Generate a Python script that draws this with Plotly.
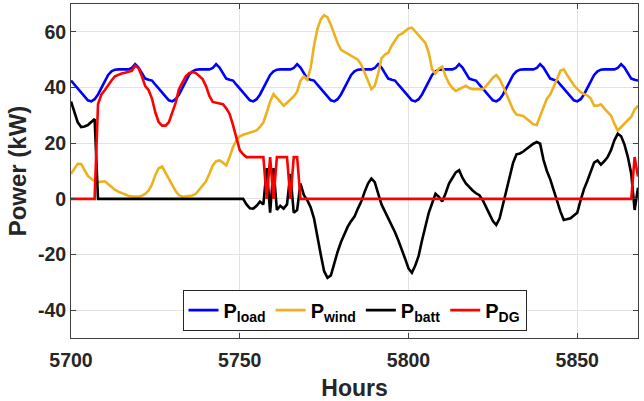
import plotly.graph_objects as go

hours = list(range(5700, 5869))

p_load = [
    42.5, 41, 39.5, 38, 36.5, 35.4,
    35, 35.8, 37.5, 40, 42.5, 44.5, 45.8, 46.4, 46.5, 46.5, 46.5, 46.5, 47, 48.4, 47.2, 45, 43.2, 42.8, 42.5, 41, 39.5, 38, 36.5, 35.4,
    35, 35.8, 37.5, 40, 42.5, 44.5, 45.8, 46.4, 46.5, 46.5, 46.5, 46.5, 47, 48.4, 47.2, 45, 43.2, 42.8, 42.5, 41, 39.5, 38, 36.5, 35.4,
    35, 35.8, 37.5, 40, 42.5, 44.5, 45.8, 46.4, 46.5, 46.5, 46.5, 46.5, 47, 48.4, 47.2, 45, 43.2, 42.8, 42.5, 41, 39.5, 38, 36.5, 35.4,
    35, 35.8, 37.5, 40, 42.5, 44.5, 45.8, 46.4, 46.5, 46.5, 46.5, 46.5, 47, 48.4, 47.2, 45, 43.2, 42.8, 42.5, 41, 39.5, 38, 36.5, 35.4,
    35, 35.8, 37.5, 40, 42.5, 44.5, 45.8, 46.4, 46.5, 46.5, 46.5, 46.5, 47, 48.4, 47.2, 45, 43.2, 42.8, 42.5, 41, 39.5, 38, 36.5, 35.4,
    35, 35.8, 37.5, 40, 42.5, 44.5, 45.8, 46.4, 46.5, 46.5, 46.5, 46.5, 47, 48.4, 47.2, 45, 43.2, 42.8, 42.5, 41, 39.5, 38, 36.5, 35.4,
    35, 35.8, 37.5, 40, 42.5, 44.5, 45.8, 46.4, 46.5, 46.5, 46.5, 46.5, 47, 48.4, 47.2, 45, 43.2, 42.8, 42.5,
]

p_wind = [
    9, 11, 12.6, 12.5, 10.3, 8.2, 7.2, 6.4, 6, 6.2,
    6.3, 5.3, 4.2, 3.3, 2.6, 2, 1.5, 1.1, 0.9, 0.8,
    0.8, 1.1, 1.8, 3, 5.2, 8.6, 11, 11.6, 9.5, 7,
    4.8, 2.8, 1.3, 0.8, 0.9, 1, 1.2, 1.8, 3.2, 4.8,
    6.3, 9, 12, 13.5, 13.8, 13, 12, 15, 18.6, 21,
    22.5, 23, 23.4, 23.8, 24.2, 24.6, 25.8, 27.5, 31, 35,
    37.6, 36.2, 34.5, 33.5, 34.5, 35.5, 36.8, 38.5, 42.5, 44,
    42.8, 47, 55, 61, 64.5, 66, 65.2, 62.5, 59.2, 56,
    53.5, 52.8, 52, 51.5, 50.7, 50, 48.2, 45.5, 42.4, 39.4,
    40.6, 45, 50.5, 51.8, 52.5, 55, 57, 58.7, 59.3, 60.2,
    61.2, 61.5, 60.2, 58.5, 57.2, 56, 52.5, 46.5, 45, 46.8,
    47.5, 44, 41.5, 39.8, 38.8, 39.5, 40.2, 40.6, 39.8, 39.4,
    39.4, 39.4, 39.4, 40.5, 42, 43.5, 44.5, 43, 40.5, 37.5,
    35, 32, 30.3, 30, 29.8, 28.8, 27.8, 26.8, 26.5, 29.5,
    33, 36, 37.5, 40, 43, 46, 46.5, 44.5, 42.5, 40.8,
    39.5, 38.3, 37.6, 37.2, 36, 33.5, 33.5, 34, 32.5, 31,
    29.9, 27, 24.5, 25.8, 27, 28, 29.5, 32, 33.5,
]

p_batt = [
    35, 31, 27.5, 25.8, 26, 26.5, 27.5, 28.7, 0, 0,
    0, 0, 0, 0, 0, 0, 0, 0, 0, 0,
    0, 0, 0, 0, 0, 0, 0, 0, 0, 0,
    0, 0, 0, 0, 0, 0, 0, 0, 0, 0,
    0, 0, 0, 0, 0, 0, 0, 0, 0, 0,
    0, 0, -2, -3.4, -3.5, -2.5, -1, -2, 11, -5,
    11, -4, -2.5, -3.5, -2, 9, -5, -4, 5.5, 1.3,
    -0.5, -3, -7, -14, -20, -26, -28.4, -27.5, -23, -19,
    -15.5, -12.5, -10, -8, -6.4, -3.5, -1, 2.5, 5.5, 7.3,
    6, 2, -2, -4.5, -7, -9, -12, -15, -18, -21.5,
    -25, -26.6, -24, -20.5, -15, -10, -5, -1.6, 1.8, 0.7,
    -1, 2, 5.5, 7.5, 9.5, 10.3, 7.5, 5.5, 4.2, 3,
    2, 1.3, -0.5, -2.8, -5.5, -8, -9.4, -7, -2, 3.5,
    8.5, 13, 16, 16.3, 17, 18, 19, 19.8, 20.4, 19.8,
    14, 10, 7, 3, -1, -4.5, -7.6, -7.3, -7, -6,
    -5, -0.5, 3.5, 6.5, 10, 13, 13.8, 12.3, 13.5, 15,
    17.5, 21, 23.4, 22.5, 19.5, 15, 9, -4, 4,
]

p_dg = [
    0, 0, 0, 0, 0, 0, 0, 0, 34, 37.5,
    39, 41, 42.5, 44, 44.6, 45, 45.3, 45.6, 46, 47.8,
    47, 44, 40.5, 39, 36, 31, 27.5, 26.3, 26.3, 27.5,
    31, 34.5, 39.5, 42, 44, 45.2, 45.6, 45.2, 44.2, 43,
    40.5, 37, 34.8, 34.5, 34.2, 34, 32.5, 30.5, 26.5, 22,
    17.5, 16, 15, 15, 15, 15, 15, 15, 0, 15,
    0, 15, 15, 15, 15, 0, 15, 15, 0, 0,
    0, 0, 0, 0, 0, 0, 0, 0, 0, 0,
    0, 0, 0, 0, 0, 0, 0, 0, 0, 0,
    0, 0, 0, 0, 0, 0, 0, 0, 0, 0,
    0, 0, 0, 0, 0, 0, 0, 0, 0, 0,
    0, 0, 0, 0, 0, 0, 0, 0, 0, 0,
    0, 0, 0, 0, 0, 0, 0, 0, 0, 0,
    0, 0, 0, 0, 0, 0, 0, 0, 0, 0,
    0, 0, 0, 0, 0, 0, 0, 0, 0, 0,
    0, 0, 0, 0, 0, 0, 0, 0, 0, 0,
    0, 0, 0, 0, 0, 0, 0, 15, 8,
]

series = [
    ("P", "load", p_load, "#0000ff"),
    ("P", "wind", p_wind, "#edb120"),
    ("P", "batt", p_batt, "#000000"),
    ("P", "DG", p_dg, "#ff0000"),
]

x_ticks = [5700, 5750, 5800, 5850]
y_ticks = [-40, -20, 0, 20, 40, 60]
y_tick_text = ["-40", "-20", "0", "20", "40", "60"]

FONT = "Liberation Sans, Arial, Helvetica, sans-serif"
TXT = "#262626"

fig = go.Figure()
for main, sub, vals, col in series:
    fig.add_trace(go.Scatter(
        x=hours, y=vals, mode="lines",
        name=f"{main}<sub>{sub}</sub>",
        line=dict(color=col, width=2.6),
    ))

axis_common = dict(
    showline=True, linecolor="#404040", linewidth=1, mirror="ticks",
    ticks="inside", ticklen=5, tickcolor="#404040",
    showgrid=True, gridcolor="#e3e3e3", gridwidth=1, zeroline=False,
    tickfont=dict(family=FONT, size=19.5, color=TXT, weight="bold"),
)

fig.update_layout(
    width=644, height=401,
    margin=dict(l=71, r=6, t=3, b=62),
    paper_bgcolor="white", plot_bgcolor="white",
    showlegend=True,
    legend=dict(
        orientation="h", x=0.5, xanchor="center", y=0.022, yanchor="bottom",
        bgcolor="white", bordercolor="#262626", borderwidth=1,
        font=dict(family=FONT, size=20, color="black", weight="bold"),
        itemwidth=30, tracegroupgap=0,
    ),
    xaxis=dict(
        range=[5700, 5868], tickvals=x_ticks,
        ticklabelstandoff=5,
        title=dict(text="Hours", font=dict(family=FONT, size=23, color=TXT, weight="bold"), standoff=10),
        **axis_common,
    ),
    yaxis=dict(
        range=[-50, 70], tickvals=y_ticks, ticktext=y_tick_text,
        title=dict(text="Power (kW)", font=dict(family=FONT, size=24, color=TXT, weight="bold"), standoff=4),
        **axis_common,
    ),
)

fig.write_html("out.html")
